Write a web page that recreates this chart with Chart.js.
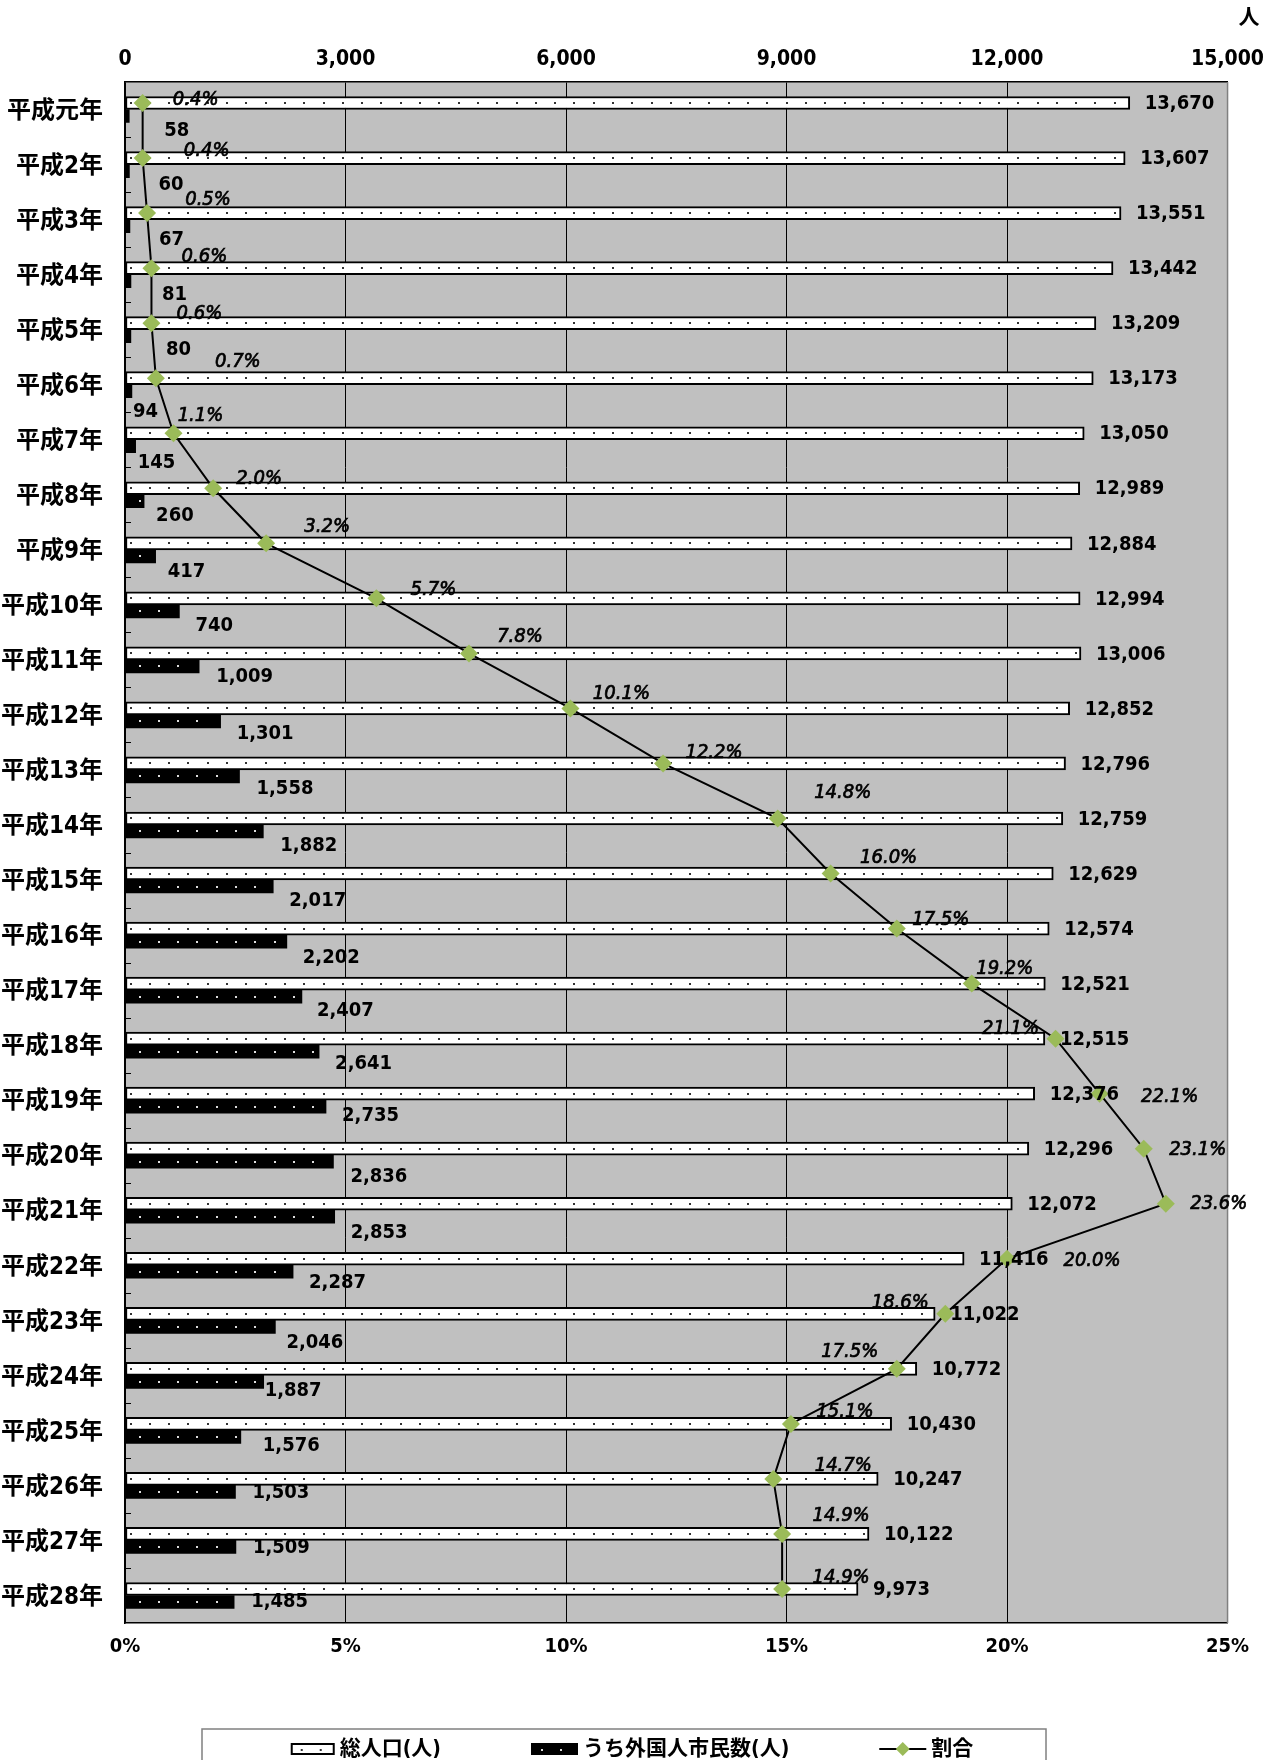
<!DOCTYPE html>
<html lang="ja">
<head>
<meta charset="utf-8">
<title>総人口と外国人市民数の推移</title>
<script src="https://cdn.jsdelivr.net/npm/chart.js@4.4.1/dist/chart.umd.min.js"></script>
<style>
  html, body { margin: 0; padding: 0; background: #fff; }
  #wrap { position: relative; width: 1274px; height: 1760px; }
</style>
</head>
<body>
<div id="wrap"><canvas id="chart"></canvas></div>
<script>
// 年次
const years = [
  '平成元年', '平成2年', '平成3年', '平成4年', '平成5年', '平成6年', '平成7年',
  '平成8年', '平成9年', '平成10年', '平成11年', '平成12年', '平成13年', '平成14年',
  '平成15年', '平成16年', '平成17年', '平成18年', '平成19年', '平成20年', '平成21年',
  '平成22年', '平成23年', '平成24年', '平成25年', '平成26年', '平成27年', '平成28年'
];
// 総人口（人）
const totalPopulation = [
  13670, 13607, 13551, 13442, 13209, 13173, 13050, 12989, 12884, 12994, 13006, 12852, 12796, 12759,
  12629, 12574, 12521, 12515, 12376, 12296, 12072, 11416, 11022, 10772, 10430, 10247, 10122, 9973
];
// うち外国人市民数（人）
const foreignResidents = [
  58, 60, 67, 81, 80, 94, 145, 260, 417, 740, 1009, 1301, 1558, 1882,
  2017, 2202, 2407, 2641, 2735, 2836, 2853, 2287, 2046, 1887, 1576, 1503, 1509, 1485
];
// 割合（％）
const foreignShare = [
  0.4, 0.4, 0.5, 0.6, 0.6, 0.7, 1.1, 2.0, 3.2, 5.7, 7.8, 10.1, 12.2, 14.8,
  16.0, 17.5, 19.2, 21.1, 22.1, 23.1, 23.6, 20.0, 18.6, 17.5, 15.1, 14.7, 14.9, 14.9
];
// 目盛り
const populationTicks = { min: 0, max: 15000, step: 3000 };
const shareTicks = { min: 0, max: 25, step: 5 };

// ラベルの置き場所（マーカー / 棒の端からのずれ, px）
const shareLabelShift = [
  [53, -3], [64, -7], [61, -13], [53, -11], [48, -9], [82, -16], [27, -17], [46, -9],
  [61, -17], [57, -9], [51, -17], [51, -15], [51, -11], [65, -26], [58, -16], [44, -9],
  [33, -15], [-45, -10], [70, 3], [54, 1], [53, 0], [85, 2], [-45, -11], [-47, -17],
  [54, -12], [70, -13], [59, -18], [59, -11]
];
const foreignLabelShift = [
  [35, 15], [29, 14], [29, 14], [31, 14], [35, 14], [1, 21], [2, 17], [12, 15],
  [12, 15], [16, 14], [17, 10], [16, 12], [17, 12], [17, 14], [16, 14], [16, 16],
  [15, 14], [16, 12], [16, 9], [17, 15], [16, 16], [16, 11], [11, 16], [1, 9],
  [22, 9], [17, 1], [17, 1], [17, 0]
];

const NUM_FAMILY = '"DejaVu Sans Condensed", "Noto Sans CJK JP", sans-serif';
const JP_FAMILY = '"DejaVu Sans Condensed", "Noto Sans CJK JP", sans-serif';
const MARKER_GREEN = '#9BBB59';
const PLOT_GRAY = '#C0C0C0';
const BAR_THICKNESS = 13;
// 2本の棒を区分の中心の上下に並べるための軸のずらし量（区分単位）
const HALF_PAIR_SHIFT = 0.118;

const fmt = v => v.toLocaleString('en-US');
const byYear = arr => arr.map((v, i) => ({ x: v, y: i }));

// 横棒の中に点模様を打つ
const barDots = {
  id: 'barDots',
  afterDatasetDraw(chart, args) {
    if (args.index > 1) return;
    const ctx = chart.ctx;
    ctx.save();
    ctx.fillStyle = args.index === 0 ? '#333' : '#ddd';
    args.meta.data.forEach(bar => {
      const { x, y, base } = bar.getProps(['x', 'y', 'base'], true);
      const start = base + (args.index === 0 ? 5 : 14);
      for (let px = start; px < x - 4; px += 19.3) {
        ctx.fillRect(Math.round(px) - 1, Math.round(y) - 1, 2, 2);
      }
    });
    ctx.restore();
  }
};

// プロットエリアの背景・枠・目盛り
const plotFrame = {
  id: 'plotFrame',
  beforeDraw(chart) {
    const { ctx, chartArea: a } = chart;
    ctx.save();
    ctx.fillStyle = PLOT_GRAY;
    ctx.fillRect(a.left, a.top, a.right - a.left, a.bottom - a.top);
    ctx.restore();
  },
  beforeDatasetsDraw(chart) {
    const { ctx, chartArea: a } = chart;
    const ys = chart.scales.y;
    ctx.save();
    ctx.strokeStyle = '#000';
    ctx.lineWidth = 1;
    for (let i = 1; i < years.length; i++) {
      const py = Math.round((ys.getPixelForTick(i - 1) + ys.getPixelForTick(i)) / 2) + 0.5;
      ctx.beginPath();
      ctx.moveTo(a.left, py);
      ctx.lineTo(a.left + 6, py);
      ctx.stroke();
    }
    ctx.strokeStyle = '#808080';
    ctx.lineWidth = 1.5;
    ctx.beginPath();
    ctx.moveTo(a.right, a.top);
    ctx.lineTo(a.right, a.bottom);
    ctx.stroke();
    ctx.restore();
  }
};

// データラベル
const valueLabels = {
  id: 'valueLabels',
  afterDatasetsDraw(chart) {
    const ctx = chart.ctx;
    ctx.save();
    ctx.fillStyle = '#000';
    ctx.textBaseline = 'middle';

    ctx.font = `bold 20px ${NUM_FAMILY}`;
    ctx.textAlign = 'left';
    chart.getDatasetMeta(0).data.forEach((bar, i) => {
      ctx.fillText(fmt(totalPopulation[i]), bar.x + 15, bar.y + 1);
    });
    chart.getDatasetMeta(1).data.forEach((bar, i) => {
      const [dx, dy] = foreignLabelShift[i];
      ctx.fillText(fmt(foreignResidents[i]), bar.x + dx, bar.y + dy);
    });

    ctx.font = `italic 20px ${NUM_FAMILY}`;
    ctx.textAlign = 'center';
    ctx.strokeStyle = '#000';
    ctx.lineWidth = 0.7;
    chart.getDatasetMeta(2).data.forEach((pt, i) => {
      const [dx, dy] = shareLabelShift[i];
      const txt = foreignShare[i].toFixed(1) + '%';
      ctx.fillText(txt, pt.x + dx, pt.y + dy);
      ctx.strokeText(txt, pt.x + dx, pt.y + dy);
    });
    ctx.restore();
  }
};

// 凡例（枠付き）と単位
const boxedLegend = {
  id: 'boxedLegend',
  afterDraw(chart) {
    const ctx = chart.ctx;
    const ds = chart.data.datasets;
    ctx.save();
    // 単位
    ctx.fillStyle = '#000';
    ctx.font = `bold 21px ${JP_FAMILY}`;
    ctx.textAlign = 'center';
    ctx.textBaseline = 'middle';
    ctx.fillText('人', 1249, 19);

    // 枠
    const box = { left: 202, right: 1046, top: 1729 };
    ctx.strokeStyle = '#808080';
    ctx.lineWidth = 1.5;
    ctx.strokeRect(box.left, box.top, box.right - box.left, 60);

    ctx.font = `bold 21px ${JP_FAMILY}`;
    ctx.textAlign = 'left';
    const iconW = [44, 47, 47];
    const gap = 90;
    const widths = ds.map((d, k) => iconW[k] + 5 + ctx.measureText(d.label).width);
    const total = widths.reduce((s, w) => s + w, 0) + gap * (ds.length - 1);
    let x = 632 - total / 2;
    const cy = 1749;
    ds.forEach((d, k) => {
      const w = iconW[k];
      if (k < 2) {
        ctx.fillStyle = d.backgroundColor;
        ctx.fillRect(x, cy - 6, w, 12);
        ctx.strokeStyle = '#000';
        ctx.lineWidth = 2;
        ctx.strokeRect(x + 1, cy - 5, w - 2, 10);
        ctx.fillStyle = k === 0 ? '#333' : '#ddd';
        ctx.fillRect(x + 10, cy, 2, 2);
        ctx.fillRect(x + 29, cy, 2, 2);
      } else {
        ctx.strokeStyle = d.borderColor;
        ctx.lineWidth = 2;
        ctx.beginPath();
        ctx.moveTo(x, cy);
        ctx.lineTo(x + w, cy);
        ctx.stroke();
        const mx = x + w / 2, r = 7;
        ctx.fillStyle = d.pointBackgroundColor;
        ctx.beginPath();
        ctx.moveTo(mx - r, cy);
        ctx.lineTo(mx, cy - r);
        ctx.lineTo(mx + r, cy);
        ctx.lineTo(mx, cy + r);
        ctx.closePath();
        ctx.fill();
      }
      ctx.fillStyle = '#000';
      ctx.fillText(d.label, x + w + 5, cy + 1);
      x += widths[k] + gap;
    });
    ctx.restore();
  }
};

// 区分と同じ並びの補助軸（上段・下段）
const rowAxis = shift => ({
  axis: 'y',
  type: 'linear',
  display: false,
  reverse: true,
  offset: false,
  bounds: 'data',
  grace: 0,
  beginAtZero: false,
  grid: { offset: false },
  min: -0.5 + shift,
  max: years.length - 0.5 + shift
});

new Chart(document.getElementById('chart'), {
  type: 'bar',
  data: {
    labels: years,
    datasets: [
      {
        label: '総人口(人)',
        data: byYear(totalPopulation),
        backgroundColor: '#ffffff',
        borderColor: '#000000',
        borderWidth: 2,
        borderSkipped: false,
        indexAxis: 'y',
        grouped: false,
        barThickness: BAR_THICKNESS,
        xAxisID: 'x',
        yAxisID: 'yUpper'
      },
      {
        label: 'うち外国人市民数(人)',
        data: byYear(foreignResidents),
        backgroundColor: '#000000',
        borderColor: '#000000',
        borderWidth: 0,
        indexAxis: 'y',
        grouped: false,
        barThickness: BAR_THICKNESS,
        xAxisID: 'x',
        yAxisID: 'yLower'
      },
      {
        type: 'line',
        label: '割合',
        indexAxis: 'y',
        data: byYear(foreignShare),
        borderColor: '#000000',
        borderWidth: 2,
        tension: 0,
        fill: false,
        pointStyle: 'rectRot',
        pointRadius: 9,
        pointHoverRadius: 9,
        pointBorderWidth: 0,
        pointBackgroundColor: MARKER_GREEN,
        pointBorderColor: MARKER_GREEN,
        xAxisID: 'x2',
        yAxisID: 'yLine',
        order: -1
      }
    ]
  },
  options: {
    indexAxis: 'y',
    responsive: true,
    maintainAspectRatio: false,
    animation: false,
    events: [],
    layout: { padding: { left: 0, right: 46, top: 0, bottom: 0 } },
    plugins: {
      legend: { display: false },
      tooltip: { enabled: false },
      title: { display: false }
    },
    scales: {
      x: {
        axis: 'x',
        type: 'linear',
        position: 'top',
        min: populationTicks.min,
        max: populationTicks.max,
        afterFit(scale) { scale.height = 82; },
        ticks: {
          stepSize: populationTicks.step,
          padding: 10,
          color: '#000',
          font: { family: NUM_FAMILY, size: 21, weight: 'bold' },
          callback: v => fmt(v)
        },
        grid: {
          drawTicks: false,
          color: ctx => (ctx.tick && ctx.tick.value === populationTicks.max ? '#808080' : '#000'),
          lineWidth: 1
        },
        border: { color: '#000', width: 1.5 }
      },
      x2: {
        axis: 'x',
        type: 'linear',
        position: 'bottom',
        min: shareTicks.min,
        max: shareTicks.max,
        afterFit(scale) { scale.height = 137; },
        ticks: {
          stepSize: shareTicks.step,
          padding: 12,
          color: '#000',
          font: { family: NUM_FAMILY, size: 20, weight: 'bold' },
          callback: v => v + '%'
        },
        grid: { display: false, drawTicks: false },
        border: { color: '#000', width: 1.5 }
      },
      y: {
        axis: 'y',
        type: 'category',
        position: 'left',
        offset: true,
        afterFit(scale) { scale.width = 125; },
        ticks: {
          padding: 22,
          labelOffset: 2,
          color: '#000',
          font: { family: JP_FAMILY, size: 24, weight: 'bold' }
        },
        grid: { display: false, drawTicks: false, offset: true },
        border: { color: '#000', width: 1.5 }
      },
      yUpper: rowAxis(HALF_PAIR_SHIFT),
      yLower: rowAxis(-HALF_PAIR_SHIFT),
      yLine: rowAxis(HALF_PAIR_SHIFT)
    }
  },
  plugins: [plotFrame, barDots, valueLabels, boxedLegend]
});
</script>
</body>
</html>
